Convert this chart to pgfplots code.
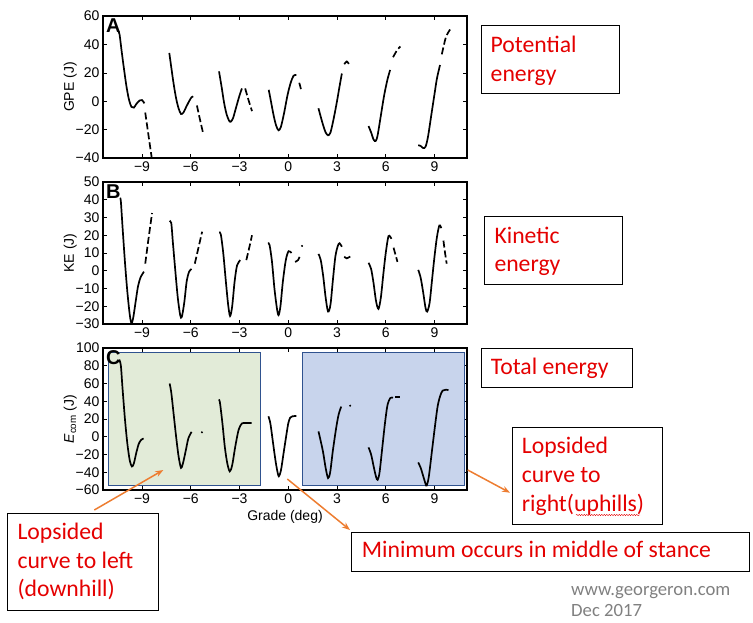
\documentclass[border=0pt]{standalone}
\usepackage{pgfplots}
\pgfplotsset{compat=1.18}
\usepackage{fontspec}
\setmainfont{Liberation Sans}
\newfontfamily\calib{Carlito}
\usetikzlibrary{arrows.meta,decorations.pathmorphing}
\definecolor{annred}{RGB}{228,0,0}
\definecolor{annorange}{RGB}{237,125,49}
\definecolor{boxgreen}{RGB}{226,235,216}
\definecolor{boxblue}{RGB}{200,212,236}
\definecolor{boxedge}{RGB}{47,82,143}
\definecolor{footgray}{RGB}{128,128,128}
\pgfplotsset{
  panel/.style={scale only axis, width=364pt, height=142pt,
    xmin=-11.4, xmax=11, xtick={-9,-6,-3,0,3,6,9},
    xticklabels={−9,−6,−3,0,3,6,9},
    tick align=inside, major tick length=4pt,
    axis line style={line width=1.3pt},
    tick style={black, line width=0.6pt},
    ticklabel style={font=\fontsize{14}{14}\selectfont},
    label style={font=\fontsize{14}{14}\selectfont},
    ylabel style={at={(axis description cs:-0.09,0.5)}, anchor=center},
    anchor=north west},
  sol/.style={black, line width=1.7pt, smooth, tension=0.5},
  dsh/.style={black, line width=1.7pt, smooth, tension=0.5, dash pattern=on 7pt off 3pt},
}
\newcommand{\plabel}[1]{\node[anchor=north west, inner sep=0pt, font=\bfseries\fontsize{20}{20}\selectfont] at (rel axis cs:0.008,0.985) {#1};}
\begin{document}
\begin{tikzpicture}
\path[use as bounding box] (0,0) rectangle (753pt,-622pt);
% ---------------- Panel A
\begin{axis}[panel, at={(103pt,-16pt)}, ymin=-40, ymax=60,
  ytick={-40,-20,0,20,40,60}, yticklabels={−40,−20,0,20,40,60},
  ylabel={GPE (J)}]
\addplot[sol] coordinates {(-10.45,49) (-10.38,47) (-10.25,35) (-10.1,22) (-9.95,10) (-9.8,1) (-9.65,-4) (-9.5,-4.5) (-9.35,-2) (-9.15,0.5) (-9.0,0.8) (-8.85,-1.5)};
\addplot[dsh] coordinates {(-8.8,-8) (-8.6,-24) (-8.4,-40)};
\addplot[sol] coordinates {(-7.32,34) (-7.2,24) (-7.05,12) (-6.9,2) (-6.75,-5) (-6.6,-9) (-6.45,-8) (-6.3,-4.5) (-6.1,0) (-5.95,2.8) (-5.85,3.4)};
\addplot[dsh] coordinates {(-5.62,-3) (-5.45,-12) (-5.25,-22)};
\addplot[sol] coordinates {(-4.26,21) (-4.1,10) (-3.95,-1) (-3.8,-9) (-3.65,-13.5) (-3.55,-14.5) (-3.4,-12) (-3.2,-4) (-3.0,4) (-2.85,9)};
\addplot[dsh] coordinates {(-2.65,9) (-2.45,1) (-2.23,-7)};
\addplot[sol] coordinates {(-1.2,8) (-1.05,-1) (-0.9,-10) (-0.75,-17) (-0.6,-20.5) (-0.45,-18) (-0.25,-8) (-0.05,4) (0.15,13) (0.33,18) (0.5,18.5)};
\addplot[dsh] coordinates {(0.68,13) (0.78,8.5)};
\addplot[sol] coordinates {(1.86,-5) (2.0,-11) (2.15,-17) (2.3,-22) (2.45,-24) (2.6,-22) (2.8,-12) (3.0,0) (3.15,10) (3.3,19.5)};
\addplot[dsh] coordinates {(3.45,26) (3.6,28) (3.8,25)};
\addplot[sol] coordinates {(4.94,-17.5) (5.1,-22) (5.25,-27) (5.38,-28) (5.5,-24) (5.7,-10) (5.9,4) (6.1,15) (6.27,22)};
\addplot[dsh] coordinates {(6.45,31) (6.7,36) (6.9,38.5)};
\addplot[sol] coordinates {(8.0,-31) (8.15,-31.5) (8.3,-33) (8.45,-32) (8.6,-25) (8.8,-10) (9.0,5) (9.15,16) (9.34,25.5)};
\addplot[dsh] coordinates {(9.45,33) (9.7,45) (9.96,50.5)};
\plabel{A}
\end{axis}
% ---------------- Panel B
\begin{axis}[panel, at={(103pt,-182pt)}, ymin=-30, ymax=50,
  ytick={-30,-20,...,50}, yticklabels={−30,−20,−10,0,10,20,30,40,50},
  ylabel={KE (J)}]
\addplot[sol] coordinates {(-10.35,41) (-10.3,39) (-10.2,25) (-10.05,5) (-9.9,-12) (-9.75,-25) (-9.65,-29.5) (-9.55,-27) (-9.4,-18) (-9.25,-9) (-9.1,-4) (-8.95,-1.5) (-8.88,-0.5)};
\addplot[dsh] coordinates {(-8.8,4) (-8.6,18) (-8.38,32.5)};
\addplot[sol] coordinates {(-7.3,27.5) (-7.2,27) (-7.1,16) (-6.95,0) (-6.8,-15) (-6.65,-25) (-6.55,-26) (-6.4,-18) (-6.25,-6) (-6.1,-0.5) (-5.95,1)};
\addplot[dsh] coordinates {(-5.75,4) (-5.55,12) (-5.3,22)};
\addplot[sol] coordinates {(-4.25,21.5) (-4.15,20.5) (-4.0,10) (-3.85,-5) (-3.7,-19) (-3.58,-25.5) (-3.45,-20) (-3.3,-6) (-3.15,3) (-2.95,6)};
\addplot[dsh] coordinates {(-2.58,6) (-2.4,13) (-2.23,20)};
\addplot[sol] coordinates {(-1.25,15.5) (-1.15,14.5) (-1.0,5) (-0.85,-10) (-0.7,-21) (-0.6,-25) (-0.48,-20) (-0.33,-6) (-0.15,6) (0.02,11) (0.2,10)};
\addplot[dsh] coordinates {(0.42,5) (0.6,6) (0.75,9)};
\addplot[only marks, mark=*, mark size=0.8pt] coordinates {(0.85,14)};
\addplot[sol] coordinates {(1.86,9.5) (2.0,6) (2.15,-3) (2.3,-15) (2.45,-23) (2.6,-19) (2.75,-5) (2.9,8) (3.05,14) (3.16,15.5) (3.3,13.5)};
\addplot[dsh] coordinates {(3.45,8) (3.6,7) (3.9,8.5)};
\addplot[sol] coordinates {(4.94,4.5) (5.1,1) (5.25,-7) (5.4,-17) (5.55,-21.5) (5.7,-15) (5.85,-2) (6.0,10) (6.17,19.5) (6.35,18)};
\addplot[dsh] coordinates {(6.48,13) (6.6,9) (6.72,5)};
\addplot[sol] coordinates {(8.0,0.5) (8.15,-4) (8.3,-12) (8.45,-21) (8.55,-23) (8.7,-18) (8.85,-5) (9.0,8) (9.15,19) (9.3,25.5) (9.42,24)};
\addplot[dsh] coordinates {(9.55,17) (9.65,10) (9.75,4)};
\plabel{B}
\end{axis}
% ---------------- Panel C
\begin{axis}[panel, at={(103pt,-348pt)}, ymin=-60, ymax=100,
  ytick={-60,-40,...,100}, yticklabels={−60,−40,−20,0,20,40,60,80,100},
  ylabel={{\itshape E}\textsubscript{com} (J)}, xlabel={Grade (deg)},
  xlabel style={font=\fontsize{14}{14}\selectfont}]
\draw[boxedge, line width=0.8pt, fill=boxgreen] (axis cs:-11.05,95.5) rectangle (axis cs:-1.73,-54.4);
\draw[boxedge, line width=0.8pt, fill=boxblue] (axis cs:0.86,95.5) rectangle (axis cs:10.86,-54.4);
\addplot[sol] coordinates {(-10.4,87) (-10.3,80) (-10.2,55) (-10.05,20) (-9.9,-8) (-9.75,-27) (-9.62,-33.5) (-9.5,-30) (-9.35,-18) (-9.2,-8) (-9.05,-3.5) (-8.9,-2)};
\addplot[sol] coordinates {(-7.3,60) (-7.2,50) (-7.05,25) (-6.9,0) (-6.75,-22) (-6.6,-35) (-6.48,-30) (-6.3,-15) (-6.15,-2) (-5.95,5.5)};
\addplot[only marks, mark=*, mark size=0.8pt] coordinates {(-5.31,5)};
\addplot[sol] coordinates {(-4.27,42) (-4.2,38) (-4.05,15) (-3.9,-12) (-3.75,-30) (-3.6,-39) (-3.45,-32) (-3.25,-10) (-3.05,8) (-2.85,15) (-2.6,15.5) (-2.25,15.5)};
\addplot[sol] coordinates {(-1.22,23) (-1.1,15) (-0.95,-5) (-0.8,-25) (-0.68,-38) (-0.58,-44.5) (-0.45,-38) (-0.3,-20) (-0.15,-2) (0.0,15) (0.12,21.5) (0.25,23) (0.5,23.5)};
\addplot[sol] coordinates {(1.86,6) (2.0,-5) (2.15,-18) (2.3,-35) (2.45,-46.5) (2.58,-40) (2.75,-15) (2.95,10) (3.1,25) (3.26,34)};
\addplot[only marks, mark=*, mark size=0.8pt] coordinates {(3.81,35)};
\addplot[sol] coordinates {(4.94,-12) (5.1,-20) (5.25,-33) (5.4,-45) (5.5,-48.5) (5.62,-40) (5.8,-10) (5.95,15) (6.1,35) (6.27,43.5) (6.45,44)};
\addplot[black, line width=1.7pt] coordinates {(6.58,44.5) (6.9,44.5)};
\addplot[sol] coordinates {(8.0,-29) (8.15,-35) (8.3,-44) (8.45,-53) (8.52,-55) (8.65,-45) (8.85,-15) (9.05,15) (9.2,35) (9.35,46) (9.5,52) (9.7,53) (9.86,52.5)};
\plabel{C}
\end{axis}
% ---------------- annotations
\begin{scope}[font=\calib\fontsize{23.7}{23.7}\selectfont, text=annred]
\draw[black, line width=0.8pt] (481pt,-25pt) rectangle (619pt,-93pt);
\node[anchor=base west, inner sep=0pt] at (490.5pt,-52.7pt) {Potential};
\node[anchor=base west, inner sep=0pt] at (490.5pt,-81pt) {energy};
\draw[black, line width=0.8pt] (484pt,-216.5pt) rectangle (622pt,-284.5pt);
\node[anchor=base west, inner sep=0pt] at (494.3pt,-243.3pt) {Kinetic};
\node[anchor=base west, inner sep=0pt] at (494.3pt,-271.7pt) {energy};
\draw[black, line width=0.8pt] (481.5pt,-348pt) rectangle (632pt,-387.5pt);
\node[anchor=base west, inner sep=0pt] at (490.7pt,-374.3pt) {Total energy};
\draw[black, line width=0.8pt] (512.3pt,-427.3pt) rectangle (662.7pt,-524pt);
\node[anchor=base west, inner sep=0pt] at (521.7pt,-453.3pt) {Lopsided};
\node[anchor=base west, inner sep=0pt] at (521.7pt,-482.7pt) {curve to};
\node[anchor=base west, inner sep=0pt] at (521.7pt,-511.7pt) {right(uphills)};
\draw[annred, line width=0.4pt, decorate, decoration={snake, amplitude=0.7pt, segment length=2.5pt}] (576pt,-515pt) -- (640pt,-515pt);
\draw[black, line width=0.8pt] (351.7pt,-532.7pt) rectangle (749.3pt,-571pt);
\node[anchor=base west, inner sep=0pt] at (361.7pt,-557.7pt) {Minimum occurs in middle of stance};
\draw[black, line width=0.8pt] (7.3pt,-513.3pt) rectangle (158.3pt,-610pt);
\node[anchor=base west, inner sep=0pt] at (17.3pt,-539.3pt) {Lopsided};
\node[anchor=base west, inner sep=0pt] at (17.3pt,-568.3pt) {curve to left};
\node[anchor=base west, inner sep=0pt] at (17.3pt,-596.7pt) {(downhill)};
\end{scope}
\begin{scope}[font=\calib\fontsize{18.7}{18.7}\selectfont, text=footgray]
\node[anchor=base west, inner sep=0pt] at (571pt,-595pt) {www.georgeron.com};
\node[anchor=base west, inner sep=0pt] at (571pt,-616.7pt) {Dec 2017};
\end{scope}
\begin{scope}[annorange, line width=1.5pt, -{Stealth[length=8pt,width=6pt]}]
\draw (94.3pt,-510pt) -- (163.3pt,-470pt);
\draw (287.3pt,-479pt) -- (350pt,-530pt);
\draw (467.7pt,-470pt) -- (510pt,-492.7pt);
\end{scope}
\end{tikzpicture}
\end{document}
